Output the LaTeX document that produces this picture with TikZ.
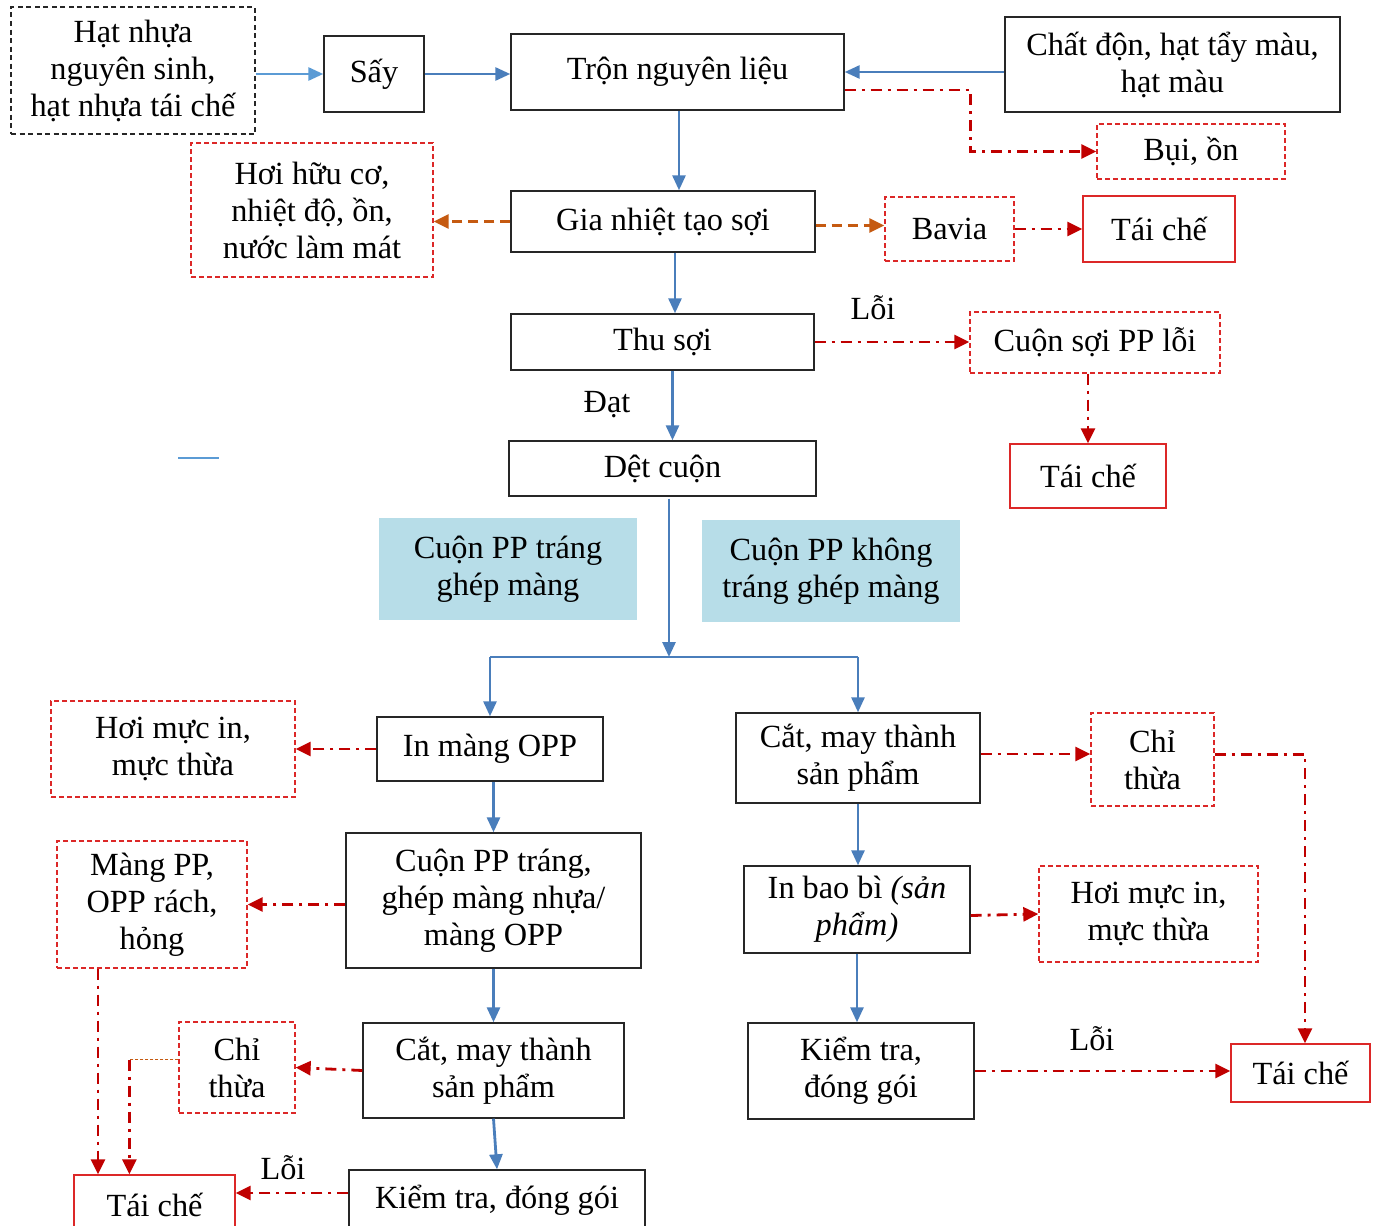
\documentclass[tikz,border=0pt]{standalone}
\usepackage{fontspec}
\setmainfont{Liberation Serif}
\usepackage{xcolor}
\usetikzlibrary{arrows.meta}

\definecolor{flowblue}{RGB}{74,126,187}
\definecolor{lightflow}{RGB}{91,155,213}
\definecolor{wastered}{RGB}{192,0,0}
\definecolor{boxred}{RGB}{220,40,40}
\definecolor{heatorange}{RGB}{197,90,17}
\definecolor{notefill}{RGB}{183,221,232}

\begin{document}
\begin{tikzpicture}[
    x=1pt, y=-1pt,
    font=\fontsize{32.3}{37}\selectfont,
    procbox/.style={draw=black!85, line width=1.4pt, fill=white, align=center, inner sep=0pt},
    inputbox/.style={procbox, dash pattern=on 5pt off 3.5pt},
    wastebox/.style={draw=boxred, line width=1.3pt, dash pattern=on 5pt off 3pt, align=center, inner sep=0pt},
    recyclebox/.style={draw=boxred, line width=1.4pt, align=center, inner sep=0pt},
    notebox/.style={fill=notefill, align=center, inner sep=0pt},
    flow/.style={-{Triangle[length=15pt, width=13pt]}, line width=2.8pt, draw=flowblue},
    flowline/.style={line width=2.8pt, draw=flowblue},
    wasteflow/.style={-{Triangle[length=15pt, width=14pt]}, line width=2.8pt, draw=wastered, dash pattern=on 11pt off 6pt on 3pt off 6pt},
    heatflow/.style={-{Triangle[length=15pt, width=14pt]}, line width=2.8pt, draw=heatorange, dash pattern=on 10pt off 6pt}
]
\useasboundingbox (0,0) rectangle (1377,1226);

\node[inputbox, minimum width=244pt, minimum height=127pt] (hat) at (133,70.5) {Hạt nhựa\\nguyên sinh,\\hạt nhựa tái chế};
\node[procbox, minimum width=100pt, minimum height=76pt] (say) at (374,74) {Sấy};
\node[procbox, minimum width=333pt, minimum height=76pt] (tron) at (677.5,72) {Trộn nguyên liệu};
\node[procbox, minimum width=335pt, minimum height=95pt] (chatdon) at (1172.5,64.5) {Chất độn, hạt tẩy màu,\\hạt màu};
\node[wastebox, minimum width=188pt, minimum height=55pt] (bui) at (1191,151.5) {Bụi, ồn};

\node[wastebox, minimum width=242pt, minimum height=134pt] (hoihuuco) at (312,210) {Hơi hữu cơ,\\nhiệt độ, ồn,\\nước làm mát};
\node[procbox, minimum width=304pt, minimum height=61pt] (gianhiet) at (663,221.5) {Gia nhiệt tạo sợi};
\node[wastebox, minimum width=129pt, minimum height=64pt] (bavia) at (949.5,229) {Bavia};
\node[recyclebox, minimum width=152pt, minimum height=66pt] (taiche1) at (1159,229) {Tái chế};

\node[procbox, minimum width=303pt, minimum height=56pt] (thusoi) at (662.5,342) {Thu sợi};
\node[wastebox, minimum width=250pt, minimum height=61pt] (cuonloi) at (1095,342.5) {Cuộn sợi PP lỗi};
\node[recyclebox, minimum width=156pt, minimum height=64pt] (taiche2) at (1088,476) {Tái chế};
\node[procbox, minimum width=307pt, minimum height=55pt] (detcuon) at (662.5,468.5) {Dệt cuộn};

\node[notebox, minimum width=258pt, minimum height=102pt] (coated) at (508,569) {Cuộn PP tráng\\ghép màng};
\node[notebox, minimum width=258pt, minimum height=102pt] (uncoated) at (831,571) {Cuộn PP không\\tráng ghép màng};

\node[procbox, minimum width=226pt, minimum height=64pt] (inmang) at (490,749) {In màng OPP};
\node[wastebox, minimum width=244pt, minimum height=96pt] (hoimuc1) at (173,749) {Hơi mực in,\\mực thừa};
\node[procbox, minimum width=295pt, minimum height=135pt] (cuonpp) at (493.5,900.5) {Cuộn PP tráng,\\ghép màng nhựa/\\màng OPP};
\node[wastebox, minimum width=190pt, minimum height=127pt] (mangpp) at (152,904.5) {Màng PP,\\OPP rách,\\hỏng};
\node[procbox, minimum width=261pt, minimum height=95pt] (cat1) at (493.5,1070.5) {Cắt, may thành\\sản phẩm};
\node[wastebox, minimum width=116pt, minimum height=91pt] (chi1) at (237,1067.5) {Chỉ\\thừa};
\node[procbox, minimum width=296pt, minimum height=60pt] (kiemtra1) at (497,1200) {Kiểm tra, đóng gói};
\node[recyclebox, minimum width=161pt, minimum height=60pt] (taiche3) at (154.5,1205) {Tái chế};

\node[procbox, minimum width=244pt, minimum height=90pt] (cat2) at (858,758) {Cắt, may thành\\sản phẩm};
\node[wastebox, minimum width=123pt, minimum height=93pt] (chi2) at (1152.5,759.5) {Chỉ\\thừa};
\node[procbox, minimum width=226pt, minimum height=87pt] (inbaobi) at (857,909.5) {In bao bì \textit{(sản}\\\textit{phẩm)}};
\node[wastebox, minimum width=219pt, minimum height=96pt] (hoimuc2) at (1148.5,914) {Hơi mực in,\\mực thừa};
\node[procbox, minimum width=226pt, minimum height=96pt] (kiemtra2) at (861,1071) {Kiểm tra,\\đóng gói};
\node[recyclebox, minimum width=139pt, minimum height=58pt] (taiche4) at (1300.5,1073) {Tái chế};

\node (loi1) at (873,308) {Lỗi};
\node (dat) at (607,405) {Đạt};
\node (loi2) at (1092,1039) {Lỗi};
\node (loi3) at (283,1168) {Lỗi};

\draw[line width=1.5pt, draw=lightflow] (178,458) -- (219,458);

\draw[flow, draw=lightflow] (say.west -| hat.east) -- (say.west);
\draw[flow] (say.east) -- (say.east -| tron.west);
\draw[flow] (tron.east -| chatdon.west) -- (tron.east);
\draw[wasteflow] ([yshift=-18pt]tron.east) -- ++(126,0) |- (bui.west);
\draw[flow] ([xshift=1.5pt]tron.south) -- ([xshift=1.5pt]tron.south |- gianhiet.north);

\draw[heatflow] (gianhiet.west) -- (gianhiet.west -| hoihuuco.east);
\draw[heatflow] ([yshift=-4pt]gianhiet.east) -- ([yshift=-4pt]gianhiet.east -| bavia.west);
\draw[wasteflow] (bavia) -- (taiche1);
\draw[flow] ([xshift=12pt]gianhiet.south) -- ([xshift=12pt]gianhiet.south |- thusoi.north);

\draw[wasteflow] (thusoi.east) -- (thusoi.east -| cuonloi.west);
\draw[wasteflow] (cuonloi.south -| taiche2.north) -- (taiche2.north);
\draw[flow] ([xshift=10pt]thusoi.south) -- ([xshift=10pt]thusoi.south |- detcuon.north);

\coordinate (split) at (669,657);
\draw[flow] ([xshift=6.5pt, yshift=-2pt]detcuon.south) -- (split);
\draw[flowline] (inmang.north |- split) -- (cat2.north |- split);
\draw[flow] (inmang.north |- split) -- (inmang.north);
\draw[flow] (cat2.north |- split) -- (cat2.north);

\draw[wasteflow] (inmang) -- (hoimuc1);
\draw[flow] (inmang.south -| cuonpp.north) -- (cuonpp.north);
\draw[wasteflow] (cuonpp.west |- mangpp.east) -- (mangpp.east);
\draw[flow] (cuonpp.south) -- (cat1.north);
\draw[wasteflow] (cat1.west) -- (chi1.east);
\draw[flow] (cat1.south) -- (kiemtra1.north);
\draw[wasteflow] ([yshift=7pt]kiemtra1.west) -- ([yshift=7pt]kiemtra1.west -| taiche3.east);
\draw[wasteflow] ([xshift=-54pt]mangpp.south) -- ([xshift=-54pt]mangpp.south |- taiche3.north);
\draw[line width=1pt, draw=heatorange, dash pattern=on 3pt off 2pt] ([yshift=8pt]chi1.west) -- ++(-49,0) coordinate (chibend);
\draw[wasteflow] (chibend) -- (chibend |- taiche3.north);

\draw[wasteflow] ([yshift=4pt]cat2.east) -- ([yshift=4pt]cat2.east -| chi2.west);
\draw[wasteflow] ([yshift=5pt]chi2.east) -| ([xshift=4.5pt]taiche4.north);
\draw[flow] (cat2.south) -- (cat2.south |- inbaobi.north);
\draw[wasteflow] ([yshift=-6pt]inbaobi.east) -- (hoimuc2.west);
\draw[flow] (inbaobi.south) -- (inbaobi.south |- kiemtra2.north);
\draw[wasteflow] (kiemtra2.east) -- (kiemtra2.east -| taiche4.west);

\end{tikzpicture}
\end{document}
